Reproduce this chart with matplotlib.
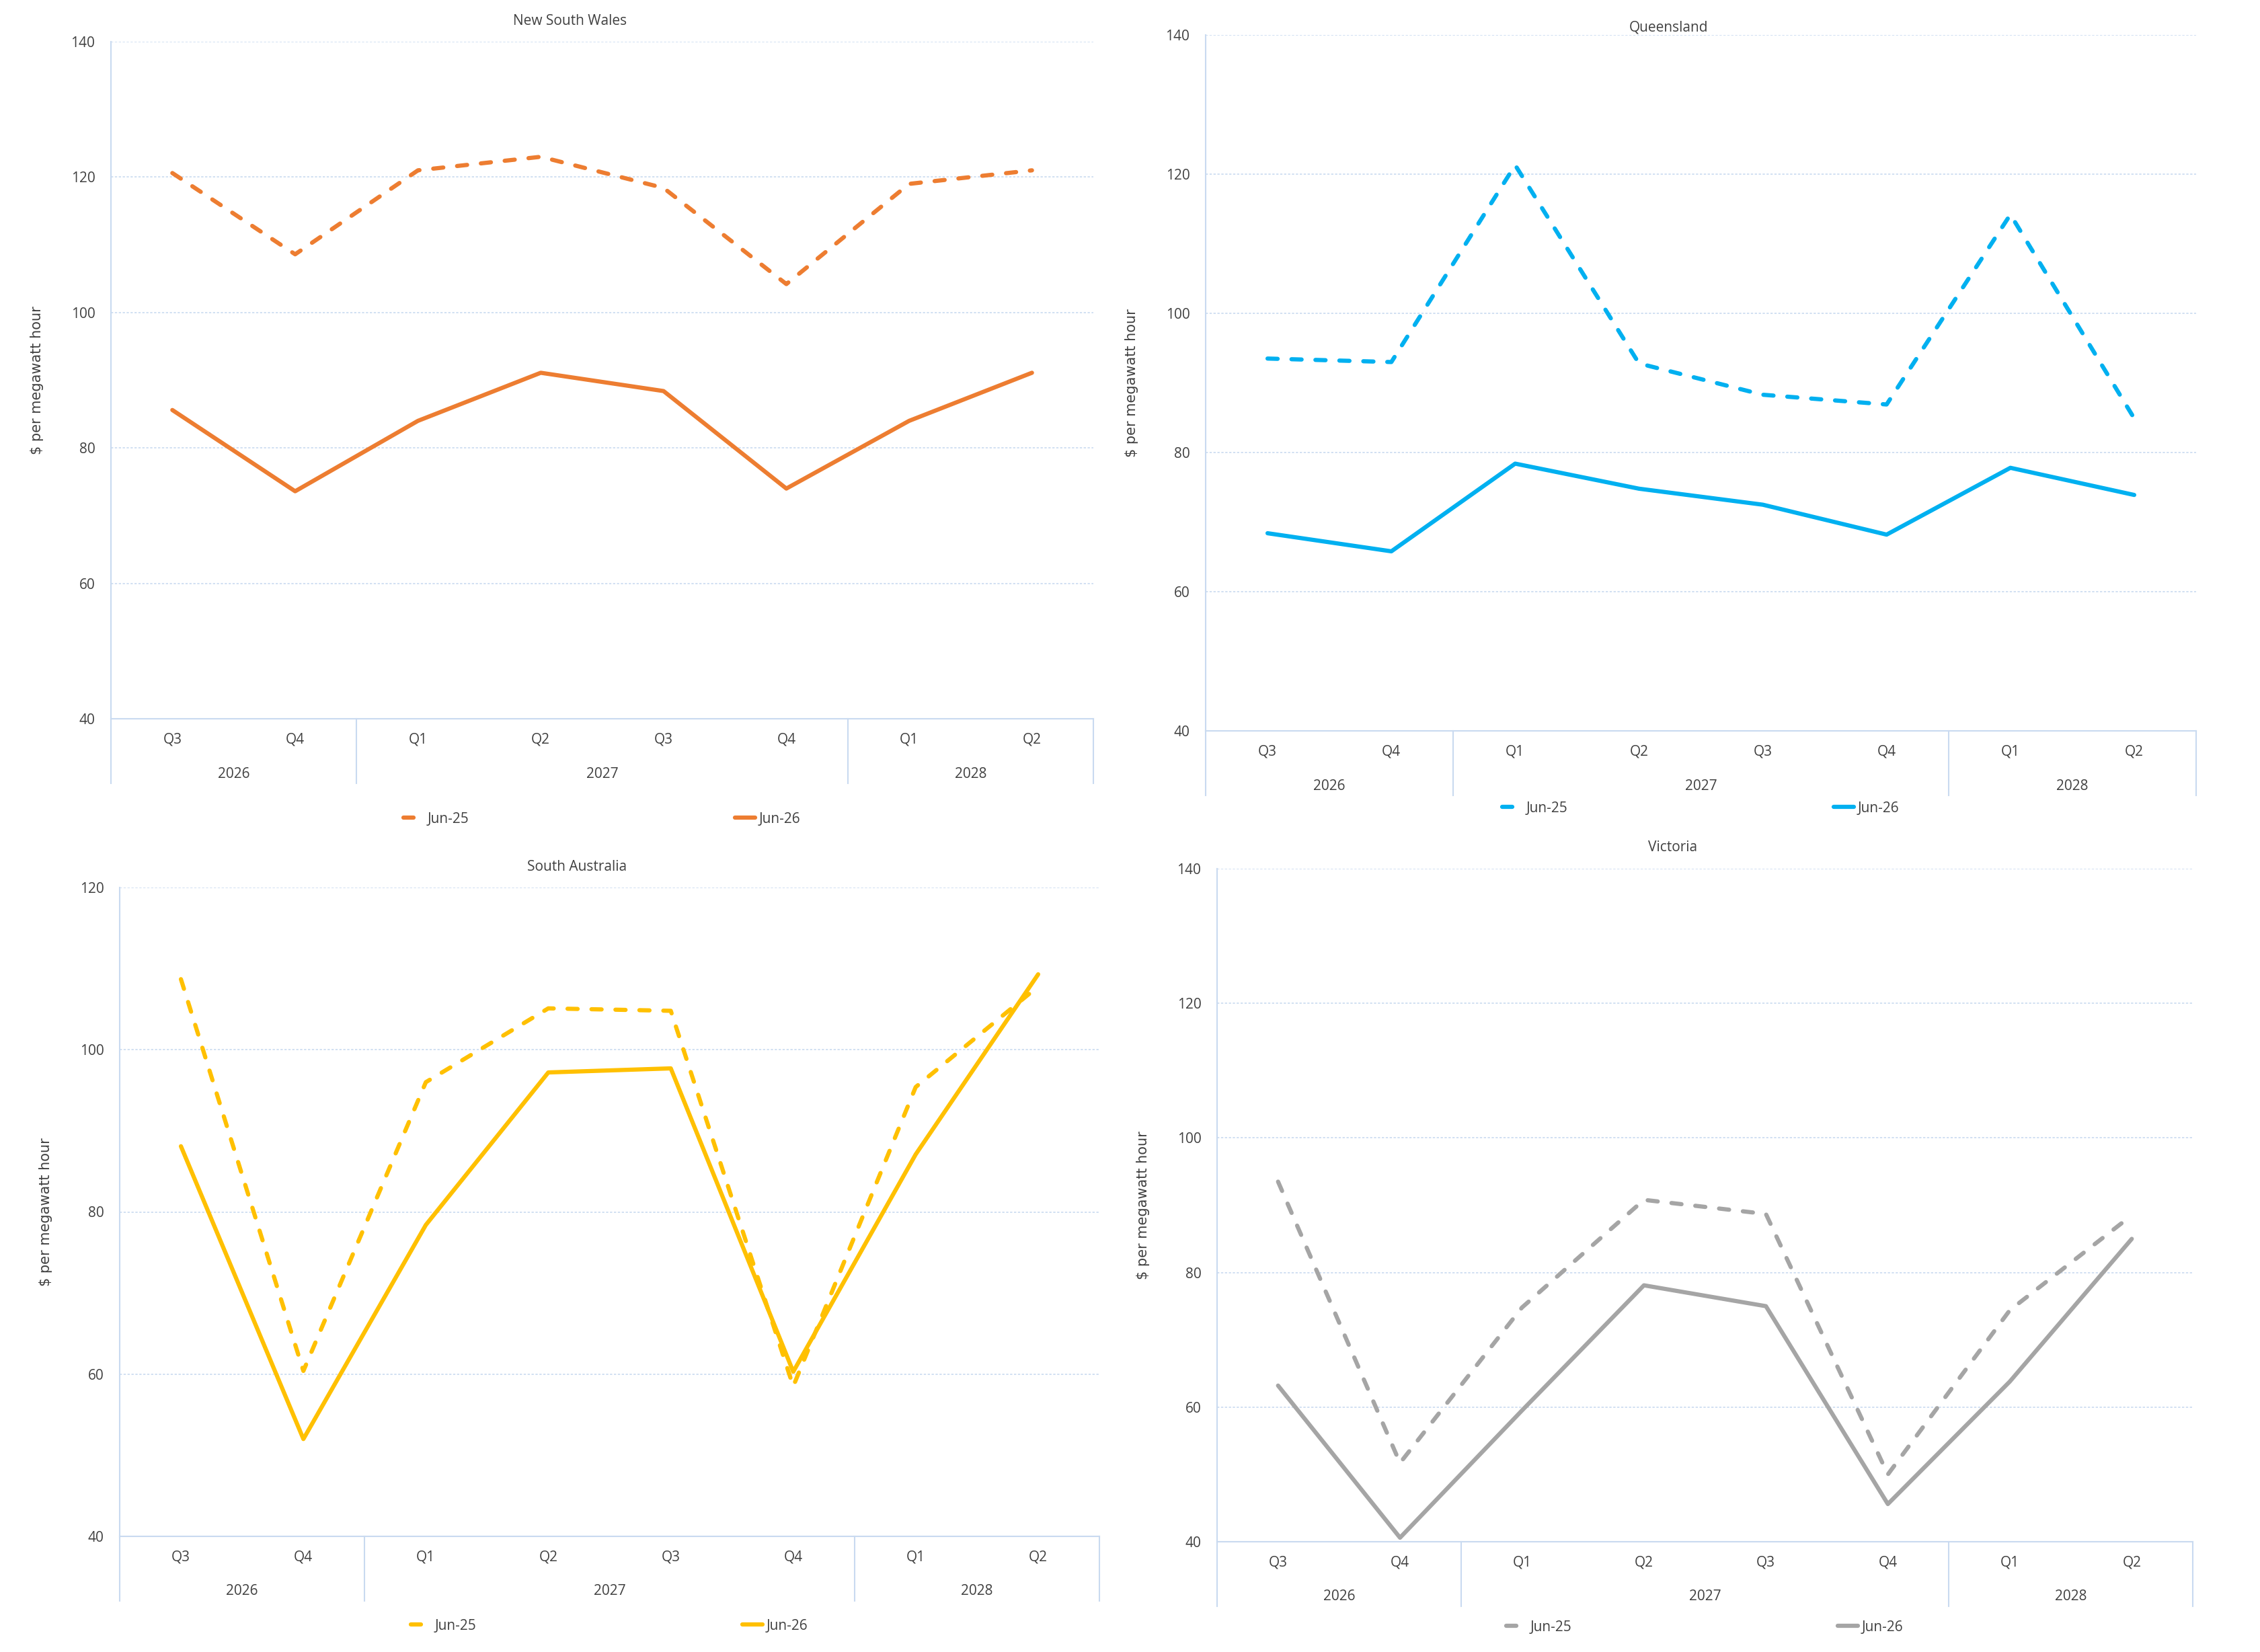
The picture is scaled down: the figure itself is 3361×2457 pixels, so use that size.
import matplotlib
matplotlib.use("Agg")
import matplotlib.pyplot as plt
from matplotlib.transforms import blended_transform_factory

plt.rcParams["font.family"] = ["Open Sans", "DejaVu Sans"]

# quarter labels and their years
quarters = ["Q3", "Q4", "Q1", "Q2", "Q3", "Q4", "Q1", "Q2"]
years = ["2026", "2026", "2027", "2027", "2027", "2027", "2028", "2028"]

series_names = ["Jun-25", "Jun-26"]

nsw_jun25 = [120.6, 108.6, 121.0, 123.0, 118.4, 104.2, 119.0, 121.0]
nsw_jun26 = [85.6, 73.6, 84.0, 91.1, 88.4, 74.0, 84.0, 91.1]

qld_jun25 = [93.5, 93.0, 121.3, 92.8, 88.3, 86.9, 114.2, 84.9]
qld_jun26 = [68.4, 65.8, 78.4, 74.8, 72.5, 68.2, 77.8, 73.9]

sa_jun25 = [108.7, 60.4, 96.0, 105.1, 104.8, 58.5, 95.4, 107.8]
sa_jun26 = [88.1, 52.0, 78.4, 97.2, 97.7, 60.3, 87.1, 109.3]

vic_jun25 = [93.5, 51.7, 74.8, 90.8, 88.7, 50.0, 74.4, 88.5]
vic_jun26 = [63.2, 40.6, 59.5, 78.1, 75.0, 45.6, 63.8, 85.0]

W, H = 3361, 2457
fig = plt.figure(figsize=(W / 100, H / 100), dpi=100)

GRID = "#c9daf0"
TXT = "#404040"


def draw_panel(px, title, dashed, solid, color, ymax, title_gap, leg_gap):
    left, top, right, bottom = px
    width_px = right - left
    height_px = bottom - top
    ax = fig.add_axes([left / W, 1 - bottom / H, width_px / W, height_px / H])
    x = list(range(len(quarters)))
    ax.plot(x, dashed, color=color, lw=4.5, dashes=(2.4, 3.3),
            dash_capstyle="round", solid_joinstyle="round", label=series_names[0])
    ax.plot(x, solid, color=color, lw=4.5, solid_capstyle="round",
            solid_joinstyle="round", label=series_names[1])

    ax.set_xlim(-0.5, len(quarters) - 0.5)
    ax.set_ylim(40, ymax)
    ax.set_yticks(range(40, ymax + 1, 20))
    ax.yaxis.grid(True, color=GRID, lw=1.2, ls=(0, (2, 1.5)))
    ax.set_axisbelow(True)
    for s in ["top", "right"]:
        ax.spines[s].set_visible(False)
    for s in ["left", "bottom"]:
        ax.spines[s].set_color(GRID)
        ax.spines[s].set_linewidth(1.5)

    ax.set_xticks(x)
    ax.set_xticklabels(quarters)
    ax.tick_params(axis="x", length=0, pad=15, labelsize=15, labelcolor=TXT)
    ax.tick_params(axis="y", length=0, pad=17, labelsize=15, labelcolor=TXT)

    # second level of the category axis: years with separators
    trans = blended_transform_factory(ax.transData, ax.transAxes)
    year_y = -82 / height_px
    sep_y = -96 / height_px
    groups = []
    for i, yr in enumerate(years):
        if groups and groups[-1][0] == yr:
            groups[-1][2] = i
        else:
            groups.append([yr, i, i])
    bounds = [groups[0][1] - 0.5] + [g[2] + 0.5 for g in groups]
    for yr, i0, i1 in groups:
        ax.text((i0 + i1) / 2, year_y, yr, transform=trans, ha="center",
                va="center", fontsize=15, color=TXT)
    for b in bounds:
        ax.plot([b, b], [0, sep_y], transform=trans, color=GRID, lw=1.5,
                clip_on=False)

    ax.set_ylabel("$ per megawatt hour", fontsize=15, color=TXT,
                  family=["DejaVu Sans"])
    ax.yaxis.set_label_coords(-100 / width_px, 0.5)

    ax.set_title(title, fontsize=15, color=TXT, pad=title_gap,
                 x=0.5 - 48 / width_px)

    leg = ax.legend(loc="center", bbox_to_anchor=(0.5, -leg_gap / height_px),
                    ncol=2, frameon=False, fontsize=15, handlelength=1.4,
                    handletextpad=0.3, columnspacing=19)
    for t in leg.get_texts():
        t.set_color(TXT)
    return ax


draw_panel((165, 62, 1626, 1069), "New South Wales", nsw_jun25, nsw_jun26,
           "#ED7D31", 140, 18, 149)
draw_panel((1793, 52, 3266, 1087), "Queensland", qld_jun25, qld_jun26,
           "#00B0F0", 140, 4, 115)
draw_panel((178, 1320, 1635, 2285), "South Australia", sa_jun25, sa_jun26,
           "#FFC000", 120, 18, 133)
draw_panel((1810, 1292, 3261, 2293), "Victoria", vic_jun25, vic_jun26,
           "#A5A5A5", 140, 19, 127)

fig.savefig("out.png", dpi=100, facecolor="white")
